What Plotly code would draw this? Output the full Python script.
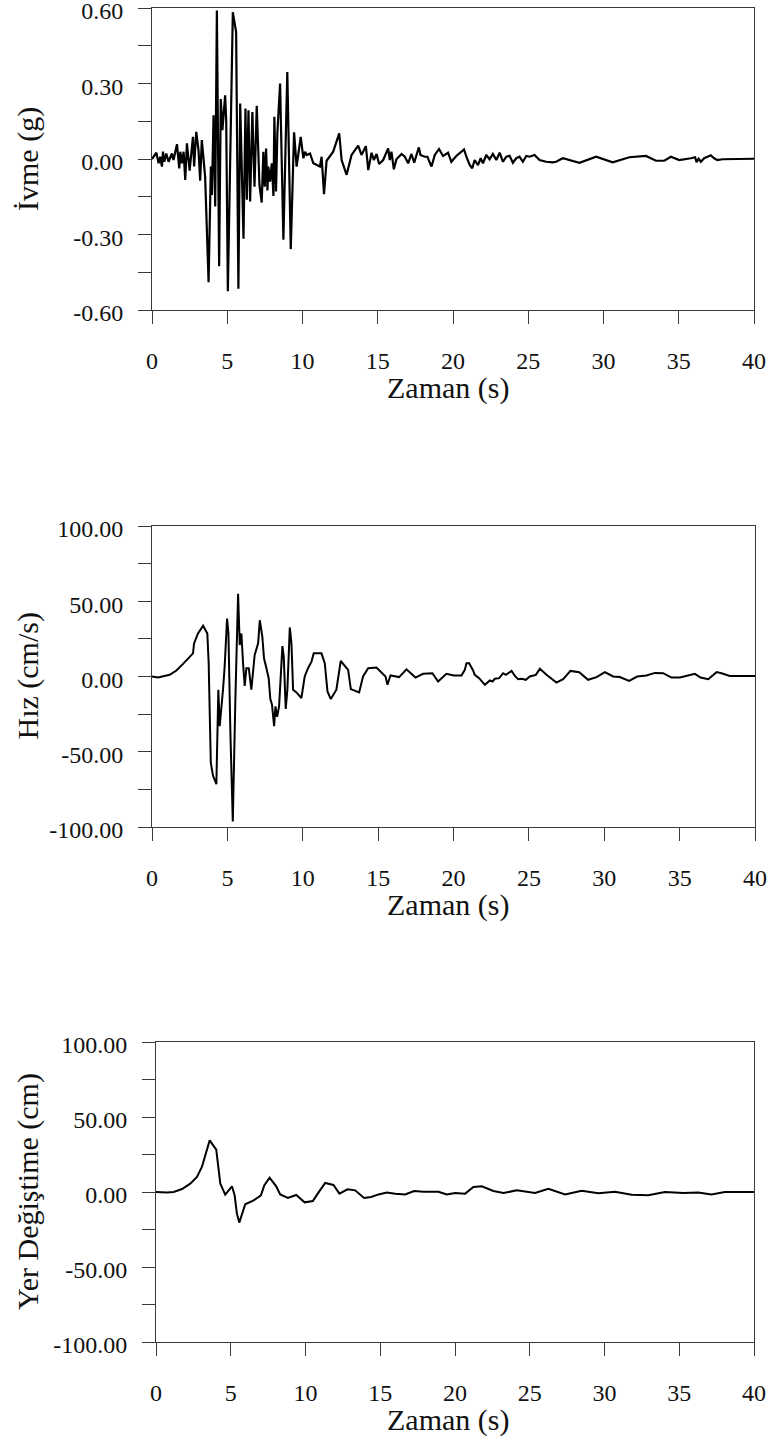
import plotly.graph_objects as go

# ---------------- data ----------------
accel_t = [0.00, 0.29, 0.44, 0.55, 0.66, 0.73, 0.82, 0.95, 1.10, 1.32,
           1.43, 1.66, 1.81, 1.88, 1.99, 2.10, 2.21, 2.32, 2.50, 2.72,
           2.80, 2.94, 3.09, 3.20, 3.31, 3.53, 3.76, 3.91, 3.98, 4.09,
           4.20, 4.31, 4.46, 4.57, 4.68, 4.86, 4.93, 5.04, 5.37, 5.52,
           5.59, 5.74, 5.86, 6.08, 6.21, 6.30, 6.41, 6.52, 6.67, 6.81,
           6.96, 7.14, 7.29, 7.40, 7.49, 7.58, 7.67, 7.73, 7.84, 7.96,
           8.07, 8.13, 8.24, 8.33, 8.51, 8.73, 8.99, 9.22, 9.44, 9.61,
           9.88, 10.06, 10.17, 10.28, 10.50, 10.72, 11.16, 11.27, 11.34, 11.43,
           11.60, 12.04, 12.44, 12.60, 12.93, 13.26, 13.70, 13.92, 14.21, 14.37,
           14.59, 14.74, 14.92, 15.09, 15.36, 15.69, 15.80, 15.91, 16.07, 16.24,
           16.58, 16.80, 17.02, 17.24, 17.42, 17.73, 17.84, 18.12, 18.30, 18.57,
           18.79, 19.07, 19.34, 19.67, 19.89, 20.22, 20.56, 20.73, 20.89, 21.11,
           21.28, 21.44, 21.66, 21.84, 21.99, 22.21, 22.43, 22.65, 22.88, 23.10,
           23.32, 23.54, 23.76, 23.98, 24.20, 24.42, 24.64, 24.87, 25.09, 25.42,
           25.75, 26.19, 26.63, 26.85, 27.30, 27.74, 28.40, 29.51, 30.61, 31.72,
           32.82, 33.49, 34.04, 34.48, 35.03, 35.81, 36.09, 36.18, 36.32, 36.47,
           36.69, 36.91, 37.13, 37.35, 37.57, 37.91, 38.57, 40.00]
accel_g = [0.000, 0.025, -0.017, 0.009, -0.030, 0.029, -0.011, 0.022, -0.011, 0.022,
           -0.004, 0.059, -0.037, 0.029, -0.017, 0.029, -0.083, 0.062, -0.046, 0.088,
           -0.030, 0.108, 0.036, -0.086, 0.075, -0.070, -0.490, -0.030, -0.143, 0.174,
           -0.189, 0.590, -0.426, 0.238, 0.115, 0.253, 0.154, -0.525, 0.583, 0.524,
           0.504, -0.516, 0.220, -0.317, 0.201, -0.162, 0.194, -0.169, 0.187, -0.110,
           0.211, -0.103, -0.173, 0.029, -0.110, 0.042, -0.125, -0.030, -0.090, -0.017,
           -0.147, 0.168, -0.129, 0.102, 0.300, -0.321, 0.346, -0.358, 0.106, -0.030,
           0.088, 0.003, 0.029, 0.016, 0.022, -0.017, -0.030, 0.009, -0.044, -0.140,
           -0.007, 0.029, 0.102, -0.004, -0.063, 0.016, 0.053, 0.016, 0.051, -0.044,
           0.025, -0.004, 0.020, -0.020, -0.004, 0.042, -0.004, 0.029, -0.041, -0.001,
           0.020, 0.009, -0.017, 0.020, -0.015, 0.046, 0.016, 0.009, 0.009, -0.030,
           0.016, 0.040, 0.012, 0.025, -0.011, 0.012, 0.029, 0.038, 0.009, -0.024,
           -0.037, -0.004, -0.024, 0.003, -0.017, 0.016, -0.001, 0.020, -0.004, 0.025,
           -0.011, 0.009, 0.013, -0.015, 0.003, 0.009, -0.011, 0.012, 0.009, 0.016,
           -0.004, -0.011, -0.013, -0.011, 0.003, -0.004, -0.015, 0.009, -0.013, 0.007,
           0.012, -0.007, -0.007, 0.009, -0.004, 0.003, 0.007, -0.013, 0.001, -0.011,
           0.003, 0.009, 0.015, 0.003, -0.004, -0.001, 0.000, 0.001]

vel_t = [0.00, 0.40, 1.17, 1.62, 2.06, 2.72, 2.79, 3.05, 3.39, 3.67,
         3.76, 3.90, 4.05, 4.27, 4.40, 4.49, 4.71, 4.82, 4.98, 5.07,
         5.20, 5.36, 5.53, 5.71, 5.82, 5.93, 6.04, 6.15, 6.26, 6.42,
         6.59, 6.81, 7.04, 7.15, 7.32, 7.43, 7.59, 7.74, 7.85, 7.96,
         8.10, 8.19, 8.30, 8.43, 8.65, 8.74, 8.87, 8.98, 9.14, 9.25,
         9.36, 9.58, 9.91, 10.13, 10.35, 10.58, 10.73, 11.24, 11.46, 11.64,
         11.86, 12.23, 12.52, 13.01, 13.19, 13.74, 14.00, 14.34, 14.89, 15.33,
         15.49, 15.62, 15.82, 16.39, 16.88, 17.48, 17.98, 18.60, 18.98, 19.53,
         20.02, 20.53, 20.75, 20.86, 21.04, 21.30, 21.41, 21.70, 21.92, 22.08,
         22.41, 22.59, 22.74, 23.03, 23.29, 23.47, 23.85, 24.07, 24.29, 24.51,
         24.80, 25.06, 25.46, 25.73, 26.17, 26.83, 27.27, 27.76, 28.34, 28.93,
         29.49, 30.04, 30.59, 31.03, 31.65, 32.18, 32.80, 33.36, 33.91, 34.46,
         35.02, 35.57, 36.01, 36.39, 36.90, 37.45, 37.78, 38.33, 40.00]
vel_cms = [0.0, -0.7, 1.1, 4.0, 8.4, 15.4, 22.0, 28.6, 33.7, 28.6,
           8.8, -57.2, -66.0, -71.5, -8.8, -33.0, -8.8, 6.6, 38.5, 28.6,
           -37.4, -96.4, -15.4, 55.0, 20.9, 28.6, 8.8, -6.2, 5.5, 5.5,
           -8.8, 14.3, 22.0, 37.4, 26.4, 12.1, 5.5, -1.1, -15.0, -18.7,
           -33.0, -19.8, -26.8, -19.8, 20.2, 13.2, -21.6, -8.8, 32.6, 22.0,
           -8.8, -10.6, -14.3, 0.0, 5.5, 9.9, 15.4, 15.4, 8.8, -9.9,
           -15.0, -8.8, 10.3, 4.4, -8.4, -10.6, 0.0, 5.5, 5.9, 1.1,
           0.0, -5.5, 0.7, -0.4, 4.8, -0.7, 1.8, 2.2, -3.3, 1.8,
           0.7, 0.7, 4.4, 8.8, 8.8, 4.0, 1.1, -1.1, -4.0, -5.5,
           -2.6, -3.3, -1.5, -1.1, 2.2, 1.1, 3.7, 0.4, -1.8, -1.5,
           -2.2, 0.0, 1.1, 5.1, 1.1, -4.0, -1.8, 3.7, 2.9, -2.2,
           -0.4, 2.9, 0.0, -0.4, -2.9, 0.0, 0.7, 2.4, 2.2, -0.7,
           -0.7, 0.7, 1.8, -0.7, -1.8, 2.9, 2.2, 0.4, 0.4]

disp_t = [0.00, 0.73, 1.18, 1.74, 2.29, 2.74, 3.07, 3.34, 3.59, 4.03,
          4.30, 4.63, 5.08, 5.26, 5.41, 5.57, 5.97, 6.53, 7.02, 7.24,
          7.60, 8.04, 8.31, 8.82, 9.38, 9.94, 10.49, 10.92, 11.32, 11.87,
          12.27, 12.81, 13.32, 13.92, 14.39, 14.88, 15.44, 16.00, 16.66, 17.27,
          17.89, 18.89, 19.45, 20.01, 20.68, 21.23, 21.79, 22.57, 23.24, 24.13,
          25.35, 26.25, 27.36, 28.47, 29.59, 30.70, 31.82, 32.93, 34.04, 35.27,
          36.27, 37.16, 38.05, 40.00]
disp_cm = [0.0, -0.4, 0.0, 2.0, 5.6, 10.0, 16.7, 25.5, 34.4, 28.2,
           5.6, -1.8, 3.8, -2.2, -14.4, -20.4, -8.2, -5.6, -2.2, 4.4,
           9.5, 3.8, -1.6, -4.0, -2.0, -6.9, -6.0, 0.4, 6.0, 4.7,
           -1.1, 1.8, 1.1, -4.0, -3.3, -1.6, -0.4, -1.1, -1.6, 0.7,
           0.2, 0.2, -1.6, -0.7, -1.1, 3.3, 3.8, 0.7, -0.7, 1.1,
           -0.7, 2.2, -1.6, 0.9, -0.9, 0.2, -1.8, -2.2, 0.0, -0.7,
           -0.4, -1.6, 0.0, 0.0]

x_tickvals = [0, 5, 10, 15, 20, 25, 30, 35, 40]
x_ticktext = ["0", "5", "10", "15", "20", "25", "30", "35", "40"]
acc_tickvals = [-0.6, -0.3, 0.0, 0.3, 0.6]
acc_ticktext = ["-0.60", "-0.30", "0.00", "0.30", "0.60"]
acc_minor = [-0.45, -0.15, 0.15, 0.45]
big_tickvals = [-100, -50, 0, 50, 100]
big_ticktext = ["-100.00", "-50.00", "0.00", "50.00", "100.00"]
big_minor = [-75, -25, 25, 75]

x_title = "Zaman (s)"
y_titles = ["İvme (g)", "Hız (cm/s)", "Yer Değiştime (cm)"]

# ---------------- layout helpers ----------------
W, H = 768, 1441
FONT = "Liberation Serif, Times New Roman, serif"
TXT = "#111111"
AX = "#3a3a3a"
TICK_SIZE = 24
TITLE_SIZE = 30


def px_x(p):
    return p / W


def px_y(p):
    return 1 - p / H


# plot boxes in pixels: (left, right, top, bottom)
boxes = [(152, 754, 8, 310), (152, 755, 526, 827), (156, 754, 1042, 1342)]

fig = go.Figure()
series = [(accel_t, accel_g, 2.2), (vel_t, vel_cms, 2.0), (disp_t, disp_cm, 2.0)]
for i, (tx, vy, lw) in enumerate(series):
    sfx = "" if i == 0 else str(i + 1)
    fig.add_trace(go.Scatter(x=tx, y=vy, mode="lines",
                             line=dict(color="black", width=lw),
                             xaxis="x" + sfx, yaxis="y" + sfx,
                             showlegend=False, hoverinfo="skip"))

layout = dict(width=W, height=H, margin=dict(l=0, r=0, t=0, b=0, autoexpand=False),
              paper_bgcolor="white", plot_bgcolor="white", showlegend=False,
              font=dict(family=FONT, color=TXT, size=TICK_SIZE))
annotations = []
for i, (l, r, t, b) in enumerate(boxes):
    sfx = "" if i == 0 else str(i + 1)
    if i == 0:
        yv, yt, ym, yr = acc_tickvals, acc_ticktext, acc_minor, [-0.6, 0.6]
    else:
        yv, yt, ym, yr = big_tickvals, big_ticktext, big_minor, [-100, 100]
    layout["xaxis" + sfx] = dict(
        domain=[px_x(l), px_x(r)], range=[0, 40], anchor="y" + sfx,
        tickmode="array", tickvals=x_tickvals, ticktext=x_ticktext,
        ticks="outside", ticklen=13, tickwidth=1, tickcolor=AX,
        showline=True, linecolor=AX, linewidth=1, mirror=True,
        showgrid=False, zeroline=False, ticklabelstandoff=16, automargin=False,
        ticklabeloverflow="allow",
        tickfont=dict(family=FONT, size=TICK_SIZE, color=TXT))
    layout["yaxis" + sfx] = dict(
        domain=[px_y(b), px_y(t)], range=yr, anchor="x" + sfx,
        tickmode="array", tickvals=yv, ticktext=yt,
        ticks="outside", ticklen=13, tickwidth=1, tickcolor=AX,
        minor=dict(tickmode="array", tickvals=ym, ticks="outside",
                   ticklen=13, tickwidth=1, tickcolor=AX, showgrid=False),
        showline=True, linecolor=AX, linewidth=1, mirror=True,
        showgrid=False, zeroline=False, ticklabelstandoff=10, automargin=False,
        ticklabeloverflow="allow", ticklabelshift=3,
        tickfont=dict(family=FONT, size=TICK_SIZE, color=TXT))
    # y title
    annotations.append(dict(text=y_titles[i], xref="paper", yref="paper",
                            x=px_x(28), y=px_y((t + b) / 2), textangle=-90,
                            xanchor="center", yanchor="middle", showarrow=False,
                            font=dict(family=FONT, size=TITLE_SIZE, color=TXT)))
    # x title
    annotations.append(dict(text=x_title, xref="paper", yref="paper",
                            x=px_x(448), y=px_y(b + 78),
                            xanchor="center", yanchor="middle", showarrow=False,
                            font=dict(family=FONT, size=TITLE_SIZE, color=TXT)))
layout["annotations"] = annotations
fig.update_layout(**layout)
fig.write_html("out.html")
